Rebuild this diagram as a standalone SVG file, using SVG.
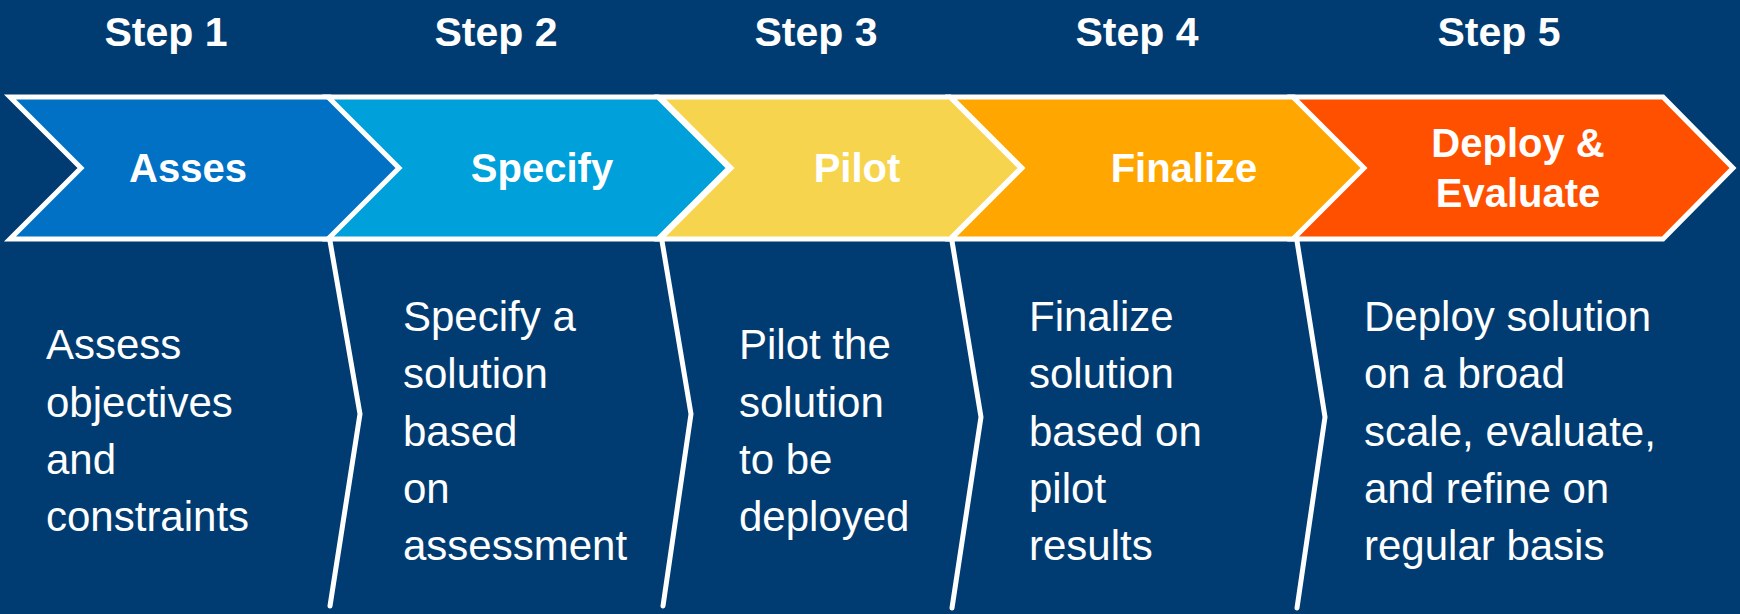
<svg xmlns="http://www.w3.org/2000/svg" width="1740" height="614" viewBox="0 0 1740 614">
<style>
.step{font-family:"Liberation Sans",Arial,sans-serif;font-weight:bold;font-size:41px;fill:#fff;text-anchor:middle}
.lbl{font-family:"Liberation Sans",Arial,sans-serif;font-weight:bold;font-size:40px;fill:#fff;text-anchor:middle}
.body{font-family:"Liberation Sans",Arial,sans-serif;font-size:42px;fill:#fff}
.chev{stroke:#fff;stroke-width:5;stroke-linejoin:miter}
.div{fill:none;stroke:#fff;stroke-width:5;stroke-linecap:round;stroke-linejoin:miter}
</style>
<rect width="1740" height="614" fill="#003C71"/>
<g id="steps">
<text class="step" x="166" y="46">Step 1</text>
<text class="step" x="496" y="46">Step 2</text>
<text class="step" x="816" y="46">Step 3</text>
<text class="step" x="1137" y="46">Step 4</text>
<text class="step" x="1499" y="46">Step 5</text>
</g>
<g id="node-asses">
<path class="chev" fill="#0071C5" d="M10,97 L330,97 L401,168 L330,239 L10,239 L81,168 Z"/>
<text class="lbl" x="188" y="182">Asses</text>
</g>
<g id="node-specify">
<path class="chev" fill="#00A0DB" d="M328,97 L658,97 L729,168 L658,239 L328,239 L399,168 Z"/>
<text class="lbl" x="542" y="182">Specify</text>
</g>
<g id="node-pilot">
<path class="chev" fill="#F7D44E" d="M660,97 L950,97 L1021,168 L950,239 L660,239 L731,168 Z"/>
<text class="lbl" x="857" y="182">Pilot</text>
</g>
<g id="node-finalize">
<path class="chev" fill="#FFA600" d="M951,97 L1294,97 L1365,168 L1294,239 L951,239 L1022,168 Z"/>
<text class="lbl" x="1184" y="182">Finalize</text>
</g>
<g id="node-deploy">
<path class="chev" fill="#FF5000" d="M1293,97 L1663,97 L1733,168 L1663,239 L1293,239 L1364,168 Z"/>
<text class="lbl" x="1518" y="157">Deploy &amp;</text>
<text class="lbl" x="1518" y="207">Evaluate</text>
</g>
<g id="connectors">
<polyline class="div" points="330,241 360,414 330,606"/>
<polyline class="div" points="662,241 691,414 663,606"/>
<polyline class="div" points="952,241 981,417 952,608"/>
<polyline class="div" points="1297,241 1325,417 1297,608"/>
</g>
<g id="desc-1">
<text class="body" x="46" y="359">Assess</text>
<text class="body" x="46" y="417">objectives</text>
<text class="body" x="46" y="474">and</text>
<text class="body" x="46" y="531">constraints</text>
</g>
<g id="desc-2">
<text class="body" x="403" y="331">Specify a</text>
<text class="body" x="403" y="388">solution</text>
<text class="body" x="403" y="446">based</text>
<text class="body" x="403" y="503">on</text>
<text class="body" x="403" y="560">assessment</text>
</g>
<g id="desc-3">
<text class="body" x="739" y="359">Pilot the</text>
<text class="body" x="739" y="417">solution</text>
<text class="body" x="739" y="474">to be</text>
<text class="body" x="739" y="531">deployed</text>
</g>
<g id="desc-4">
<text class="body" x="1029" y="331">Finalize</text>
<text class="body" x="1029" y="388">solution</text>
<text class="body" x="1029" y="446">based on</text>
<text class="body" x="1029" y="503">pilot</text>
<text class="body" x="1029" y="560">results</text>
</g>
<g id="desc-5">
<text class="body" x="1364" y="331">Deploy solution</text>
<text class="body" x="1364" y="388">on a broad</text>
<text class="body" x="1364" y="446">scale, evaluate,</text>
<text class="body" x="1364" y="503">and refine on</text>
<text class="body" x="1364" y="560">regular basis</text>
</g>
</svg>
